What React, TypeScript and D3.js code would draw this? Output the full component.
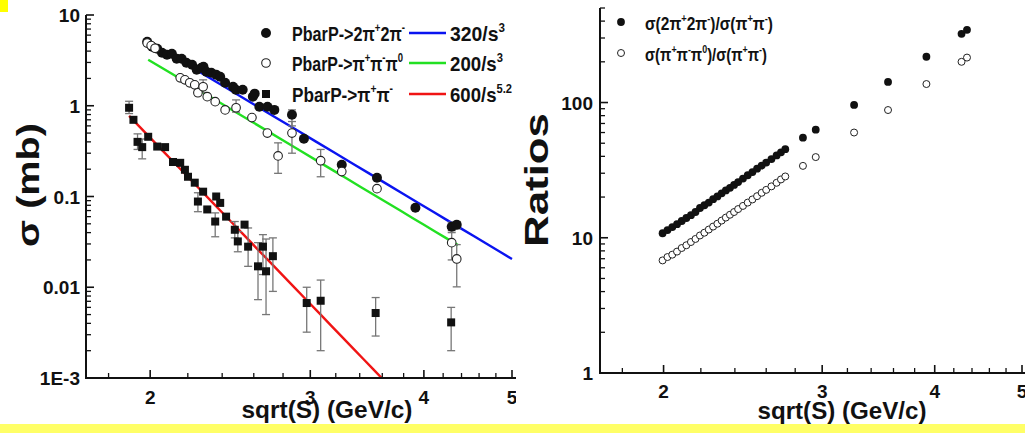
import React from "react";
import * as d3 from "d3";

// ---------- axis ticks ----------
const xMajor = [2, 3, 4, 5];
const xMinor = [1.8, 2.2, 2.4, 2.6, 2.8, 3.2, 3.4, 3.6, 3.8, 4.2, 4.4, 4.6, 4.8];
const leftYMajor = [0.001, 0.01, 0.1, 1, 10];
const leftYLabels = ["1E-3", "0.01", "0.1", "1", "10"];
const rightYMajor = [1, 10, 100];
const rightYLabels = ["1", "10", "100"];

// ---------- left panel: cross sections (mb) ----------
const fourPiX = [1.985, 2.01, 2.036, 2.061, 2.087, 2.113, 2.139, 2.166, 2.192, 2.224, 2.25, 2.277, 2.289, 2.306, 2.335, 2.364, 2.388, 2.418, 2.467, 2.485, 2.528, 2.594, 2.606, 2.637, 2.692, 2.739, 2.864, 2.952, 3.249, 3.552, 3.915, 4.292, 4.347];
const fourPiY = [5.07, 4.47, 4.25, 3.84, 3.65, 3.74, 3.3, 3.3, 2.98, 2.83, 2.49, 2.62, 2.69, 2.37, 2.31, 2.2, 2.09, 1.79, 1.62, 1.5, 1.5, 1.26, 1.36, 0.975, 0.975, 0.9, 0.796, 0.433, 0.224, 0.161, 0.075, 0.0464, 0.0488];
const fourPiLo = [null, null, null, null, null, null, null, null, null, null, null, null, null, null, null, null, null, null, null, null, null, null, null, null, null, null, 0.6, null, null, null, null, 0.042, 0.044];
const fourPiHi = [null, null, null, null, null, null, null, null, null, null, null, null, null, null, null, null, null, null, null, null, null, null, null, null, null, null, 0.9, null, null, null, null, 0.052, 0.053];

const threePiX = [1.985, 2.005, 2.025, 2.158, 2.184, 2.211, 2.239, 2.257, 2.287, 2.311, 2.358, 2.418, 2.486, 2.588, 2.691, 2.765, 2.864, 3.08, 3.249, 3.552, 4.292, 4.347];
const threePiY = [4.9, 4.6, 4.3, 2.03, 1.93, 1.79, 1.7, 1.39, 1.62, 1.26, 1.11, 0.9, 0.95, 0.74, 0.5, 0.28, 0.5, 0.248, 0.188, 0.122, 0.031, 0.0205];
const threePiLo = [null, null, null, null, null, null, null, null, 1.4, null, null, null, 0.85, null, null, 0.18, 0.3, 0.165, null, null, 0.02, 0.0101];
const threePiHi = [null, null, null, null, null, null, null, null, 1.93, null, null, null, 1.16, null, null, 0.39, 0.67, 0.33, null, null, 0.04, 0.0295];

const twoPiX = [1.896, 1.917, 1.937, 1.96, 1.99, 2.036, 2.077, 2.119, 2.158, 2.184, 2.201, 2.239, 2.257, 2.287, 2.311, 2.358, 2.364, 2.388, 2.424, 2.478, 2.497, 2.54, 2.563, 2.628, 2.661, 2.682, 2.729, 2.973, 3.08, 3.54, 4.286];
const twoPiY = [0.95, 0.7, 0.4, 0.35, 0.455, 0.355, 0.35, 0.24, 0.235, 0.197, 0.165, 0.142, 0.088, 0.113, 0.072, 0.053, 0.1, 0.085, 0.06, 0.043, 0.032, 0.049, 0.028, 0.017, 0.028, 0.015, 0.022, 0.0067, 0.0071, 0.0052, 0.0041];
const twoPiLo = [0.82, null, 0.33, 0.26, null, null, null, null, null, null, null, null, 0.068, null, null, 0.036, null, null, null, 0.035, 0.0246, null, 0.017, 0.0073, 0.0138, 0.005, 0.009, 0.0032, 0.002, 0.0029, 0.002];
const twoPiHi = [1.12, null, 0.49, 0.43, null, null, null, null, null, null, null, null, 0.11, null, null, 0.066, null, null, null, 0.053, 0.041, null, 0.045, 0.031, 0.038, 0.034, 0.035, 0.01, 0.012, 0.0077, 0.006];

// fits: coef / s^pow, s = sqrt(S)^2
const fitCoef = [320, 200, 600];
const fitPow = [3, 3, 5.2];
const fitFrom = [1.985, 1.99, 1.896];
const fitTo = [5, 4.36, 3.7];
const fitColors = ["#0a14f0", "#22e022", "#f01414"];

// ---------- right panel: ratios ----------
const ratioX = [1.995, 2.02, 2.045, 2.07, 2.095, 2.12, 2.145, 2.17, 2.195, 2.22, 2.245, 2.27, 2.295, 2.32, 2.345, 2.37, 2.395, 2.42, 2.45, 2.48, 2.51, 2.54, 2.57, 2.6, 2.635, 2.67, 2.7, 2.73, 2.856, 2.951, 3.255, 3.55, 3.916, 4.284, 4.344];
const ratio4Y = [10.8, 11.4, 12.0, 12.6, 13.3, 14.0, 14.7, 15.5, 16.6, 17.4, 18.2, 19.3, 20.2, 21.3, 22.4, 23.4, 24.6, 25.8, 27.4, 29.0, 30.6, 32.4, 34.2, 36.0, 38.2, 40.6, 42.8, 45.2, 55, 63, 96, 142, 218, 322, 345];
const ratio3Y = [6.8, 7.2, 7.5, 7.9, 8.4, 8.8, 9.3, 9.8, 10.4, 10.9, 11.5, 12.1, 12.7, 13.4, 14.1, 14.8, 15.5, 16.3, 17.2, 18.2, 19.2, 20.3, 21.5, 22.6, 24.0, 25.5, 27.0, 28.4, 34, 39.5, 60, 88, 137, 200, 215];

type Seg = [string, boolean];
const leftLegend: Seg[][] = [
  [["PbarP->2π", false], ["+", true], ["2π", false], ["-", true]],
  [["PbarP->π", false], ["+", true], ["π", false], ["-", true], ["π", false], ["0", true]],
  [["PbarP->π", false], ["+", true], ["π", false], ["-", true]],
];
const fitLegend: Seg[][] = [
  [["320/s", false], ["3", true]],
  [["200/s", false], ["3", true]],
  [["600/s", false], ["5.2", true]],
];
const rightLegend: Seg[][] = [
  [["σ(2π", false], ["+", true], ["2π", false], ["-", true], [")/σ(π", false], ["+", true], ["π", false], ["-", true], [")", false]],
  [["σ(π", false], ["+", true], ["π", false], ["-", true], ["π", false], ["0", true], [")/σ(π", false], ["+", true], ["π", false], ["-", true], [")", false]],
];

const FONT = "'Liberation Sans', Arial, sans-serif";

function Rich({ segs, x, y, fs, len }: { segs: Seg[]; x: number; y: number; fs: number; len?: number }) {
  let up = false;
  const parts = segs.map(([t, s], i) => {
    let dy = 0;
    if (s && !up) { dy = -fs * 0.42; up = true; }
    else if (!s && up) { dy = fs * 0.42; up = false; }
    return (
      <tspan key={i} dy={dy} fontSize={s ? fs * 0.6 : fs}>{t}</tspan>
    );
  });
  return (
    <text x={x} y={y} fontSize={fs} fontFamily={FONT} fontWeight="bold" fill="#111"
      textLength={len} lengthAdjust={len ? "spacingAndGlyphs" : undefined}>{parts}</text>
  );
}

function minorLog(lo: number, hi: number) {
  const out: number[] = [];
  for (let e = Math.floor(Math.log10(lo)); e <= Math.ceil(Math.log10(hi)); e++) {
    for (let m = 2; m <= 9; m++) {
      const v = m * Math.pow(10, e);
      if (v >= lo * 0.999 && v <= hi * 1.001) out.push(v);
    }
  }
  return out;
}

function ErrBar({ x, lo, hi, color }: { x: number; lo: number; hi: number; color: string }) {
  return (
    <g stroke={color} strokeWidth={1.3}>
      <line x1={x} x2={x} y1={lo} y2={hi} />
      <line x1={x - 4} x2={x + 4} y1={lo} y2={lo} />
      <line x1={x - 4} x2={x + 4} y1={hi} y2={hi} />
    </g>
  );
}

export default function App() {
  const lx = d3.scaleLog().domain([1.7, 5]).range([86, 512]);
  const ly = d3.scaleLog().domain([0.001, 10]).range([378, 15]);
  const rx = d3.scaleLog().domain([1.7, 5]).range([600, 1022]);
  const ry = d3.scaleLog().domain([1, 500]).range([373, 8]);

  const fitLine = (i: number) => {
    const pts = d3.range(0, 21).map((k) => fitFrom[i] + (fitTo[i] - fitFrom[i]) * (k / 20));
    return d3.line<number>().x((v) => lx(v)).y((v) => ly(fitCoef[i] / Math.pow(v * v, fitPow[i])))(pts) || "";
  };

  const axisColor = "#111";
  const tickFs = 19;

  return (
    <svg width={1025} height={433} style={{ position: "absolute", left: 0, top: 0, background: "#fff" }}>
      <defs>
        <clipPath id="leftClip"><rect x={0} y={0} width={515} height={378} /></clipPath>
        <clipPath id="leftAll"><rect x={0} y={0} width={516} height={433} /></clipPath>
      </defs>
      <rect x={0} y={0} width={1025} height={433} fill="#fff" />

      {/* ================= LEFT PANEL ================= */}
      <g clipPath="url(#leftAll)">
        <g clipPath="url(#leftClip)">
          {fitCoef.map((_, i) => (
            <path key={i} d={fitLine(i)} stroke={fitColors[i]} strokeWidth={2.4} fill="none" />
          ))}
        </g>
        {twoPiX.map((x, i) => twoPiLo[i] != null ? (
          <ErrBar key={"e2" + i} x={lx(x)} lo={ly(twoPiLo[i] as number)} hi={ly(twoPiHi[i] as number)} color="#777" />
        ) : null)}
        {threePiX.map((x, i) => threePiLo[i] != null ? (
          <ErrBar key={"e3" + i} x={lx(x)} lo={ly(threePiLo[i] as number)} hi={ly(threePiHi[i] as number)} color="#777" />
        ) : null)}
        {fourPiX.map((x, i) => fourPiLo[i] != null ? (
          <ErrBar key={"e4" + i} x={lx(x)} lo={ly(fourPiLo[i] as number)} hi={ly(fourPiHi[i] as number)} color="#777" />
        ) : null)}
        {twoPiX.map((x, i) => (
          <rect key={"s" + i} x={lx(x) - 4} y={ly(twoPiY[i]) - 4} width={8} height={8} fill="#111" />
        ))}
        {fourPiX.map((x, i) => (
          <circle key={"f" + i} cx={lx(x)} cy={ly(fourPiY[i])} r={5} fill="#111" />
        ))}
        {threePiX.map((x, i) => (
          <circle key={"o" + i} cx={lx(x)} cy={ly(threePiY[i])} r={4.3} fill="#fff" stroke="#222" strokeWidth={1.1} />
        ))}

        <line x1={86} x2={86} y1={15} y2={379} stroke={axisColor} strokeWidth={2} />
        <line x1={85} x2={516} y1={378} y2={378} stroke={axisColor} strokeWidth={2} />
        {leftYMajor.map((v, i) => (
          <g key={"ly" + i}>
            <line x1={86} x2={94} y1={ly(v)} y2={ly(v)} stroke={axisColor} strokeWidth={1.6} />
            <text x={80} y={ly(v) + 7} textAnchor="end" fontSize={tickFs} fontFamily={FONT} fontWeight="bold" fill="#111">{leftYLabels[i]}</text>
          </g>
        ))}
        {minorLog(0.001, 10).map((v, i) => (
          <line key={"lym" + i} x1={86} x2={91} y1={ly(v)} y2={ly(v)} stroke={axisColor} strokeWidth={1.3} />
        ))}
        {xMajor.map((v, i) => (
          <g key={"lx" + i}>
            <line x1={lx(v)} x2={lx(v)} y1={378} y2={370} stroke={axisColor} strokeWidth={1.6} />
            <text x={lx(v)} y={404} textAnchor="middle" fontSize={tickFs} fontFamily={FONT} fontWeight="bold" fill="#111">{v}</text>
          </g>
        ))}
        {xMinor.map((v, i) => (
          <line key={"lxm" + i} x1={lx(v)} x2={lx(v)} y1={378} y2={373} stroke={axisColor} strokeWidth={1.3} />
        ))}

        <text x={327} y={418} textAnchor="middle" fontSize={24} fontFamily={FONT} fontWeight="bold" fill="#111"
          textLength={171} lengthAdjust="spacingAndGlyphs">sqrt(S) (GeV/c)</text>
        <text transform="translate(39,185) rotate(-90)" textAnchor="middle" fontSize={31} fontFamily={FONT} fontWeight="bold" fill="#111"
          textLength={124} lengthAdjust="spacingAndGlyphs">σ (mb)</text>

        <circle cx={266} cy={33} r={5} fill="#111" />
        <circle cx={266} cy={63} r={4.3} fill="#fff" stroke="#222" strokeWidth={1.1} />
        <rect x={262} y={90} width={8} height={8} fill="#111" />
        {leftLegend.map((segs, i) => (
          <Rich key={"ll" + i} segs={segs} x={292} y={[41, 71, 102][i]} fs={21} len={[113, 111, 101][i]} />
        ))}
        {fitColors.map((c, i) => (
          <line key={"lg" + i} x1={409} x2={446} y1={[33, 63, 94][i]} y2={[33, 63, 94][i]} stroke={c} strokeWidth={2.6} />
        ))}
        {fitLegend.map((segs, i) => (
          <Rich key={"fl" + i} segs={segs} x={450} y={[41, 71, 102][i]} fs={21} len={[55, 53, 62][i]} />
        ))}
      </g>

      {/* ================= RIGHT PANEL ================= */}
      <g>
        {ratioX.map((x, i) => (
          <circle key={"r4" + i} cx={rx(x)} cy={ry(ratio4Y[i])} r={3.9} fill="#111" />
        ))}
        {ratioX.map((x, i) => (
          <circle key={"r3" + i} cx={rx(x)} cy={ry(ratio3Y[i])} r={3.5} fill="#fff" stroke="#222" strokeWidth={1} />
        ))}

        <line x1={600} x2={600} y1={8} y2={374} stroke={axisColor} strokeWidth={2} />
        <line x1={599} x2={1025} y1={373} y2={373} stroke={axisColor} strokeWidth={2} />
        {rightYMajor.map((v, i) => (
          <g key={"ry" + i}>
            <line x1={600} x2={608} y1={ry(v)} y2={ry(v)} stroke={axisColor} strokeWidth={1.6} />
            <text x={593} y={ry(v) + 7} textAnchor="end" fontSize={tickFs} fontFamily={FONT} fontWeight="bold" fill="#111">{rightYLabels[i]}</text>
          </g>
        ))}
        {minorLog(1, 500).map((v, i) => (
          <line key={"rym" + i} x1={600} x2={605} y1={ry(v)} y2={ry(v)} stroke={axisColor} strokeWidth={1.3} />
        ))}
        {xMajor.map((v, i) => (
          <g key={"rx" + i}>
            <line x1={rx(v)} x2={rx(v)} y1={373} y2={365} stroke={axisColor} strokeWidth={1.6} />
            <text x={rx(v)} y={398} textAnchor="middle" fontSize={tickFs} fontFamily={FONT} fontWeight="bold" fill="#111">{v}</text>
          </g>
        ))}
        {xMinor.map((v, i) => (
          <line key={"rxm" + i} x1={rx(v)} x2={rx(v)} y1={373} y2={368} stroke={axisColor} strokeWidth={1.3} />
        ))}

        <text x={842} y={419} textAnchor="middle" fontSize={24} fontFamily={FONT} fontWeight="bold" fill="#111"
          textLength={169} lengthAdjust="spacingAndGlyphs">sqrt(S) (GeV/c)</text>
        <text transform="translate(548,180) rotate(-90)" textAnchor="middle" fontSize={33} fontFamily={FONT} fontWeight="bold" fill="#111"
          textLength={134} lengthAdjust="spacingAndGlyphs">Ratios</text>

        <circle cx={621} cy={22} r={3.9} fill="#111" />
        <circle cx={621} cy={53} r={3.5} fill="#fff" stroke="#222" strokeWidth={1} />
        {rightLegend.map((segs, i) => (
          <Rich key={"rl" + i} segs={segs} x={645} y={[30, 61][i]} fs={18} len={[128, 122][i]} />
        ))}
      </g>

      <rect x={0} y={0} width={8} height={12} fill="#ffff00" />
      <rect x={0} y={424} width={1025} height={9} fill="#ffff66" />
    </svg>
  );
}
